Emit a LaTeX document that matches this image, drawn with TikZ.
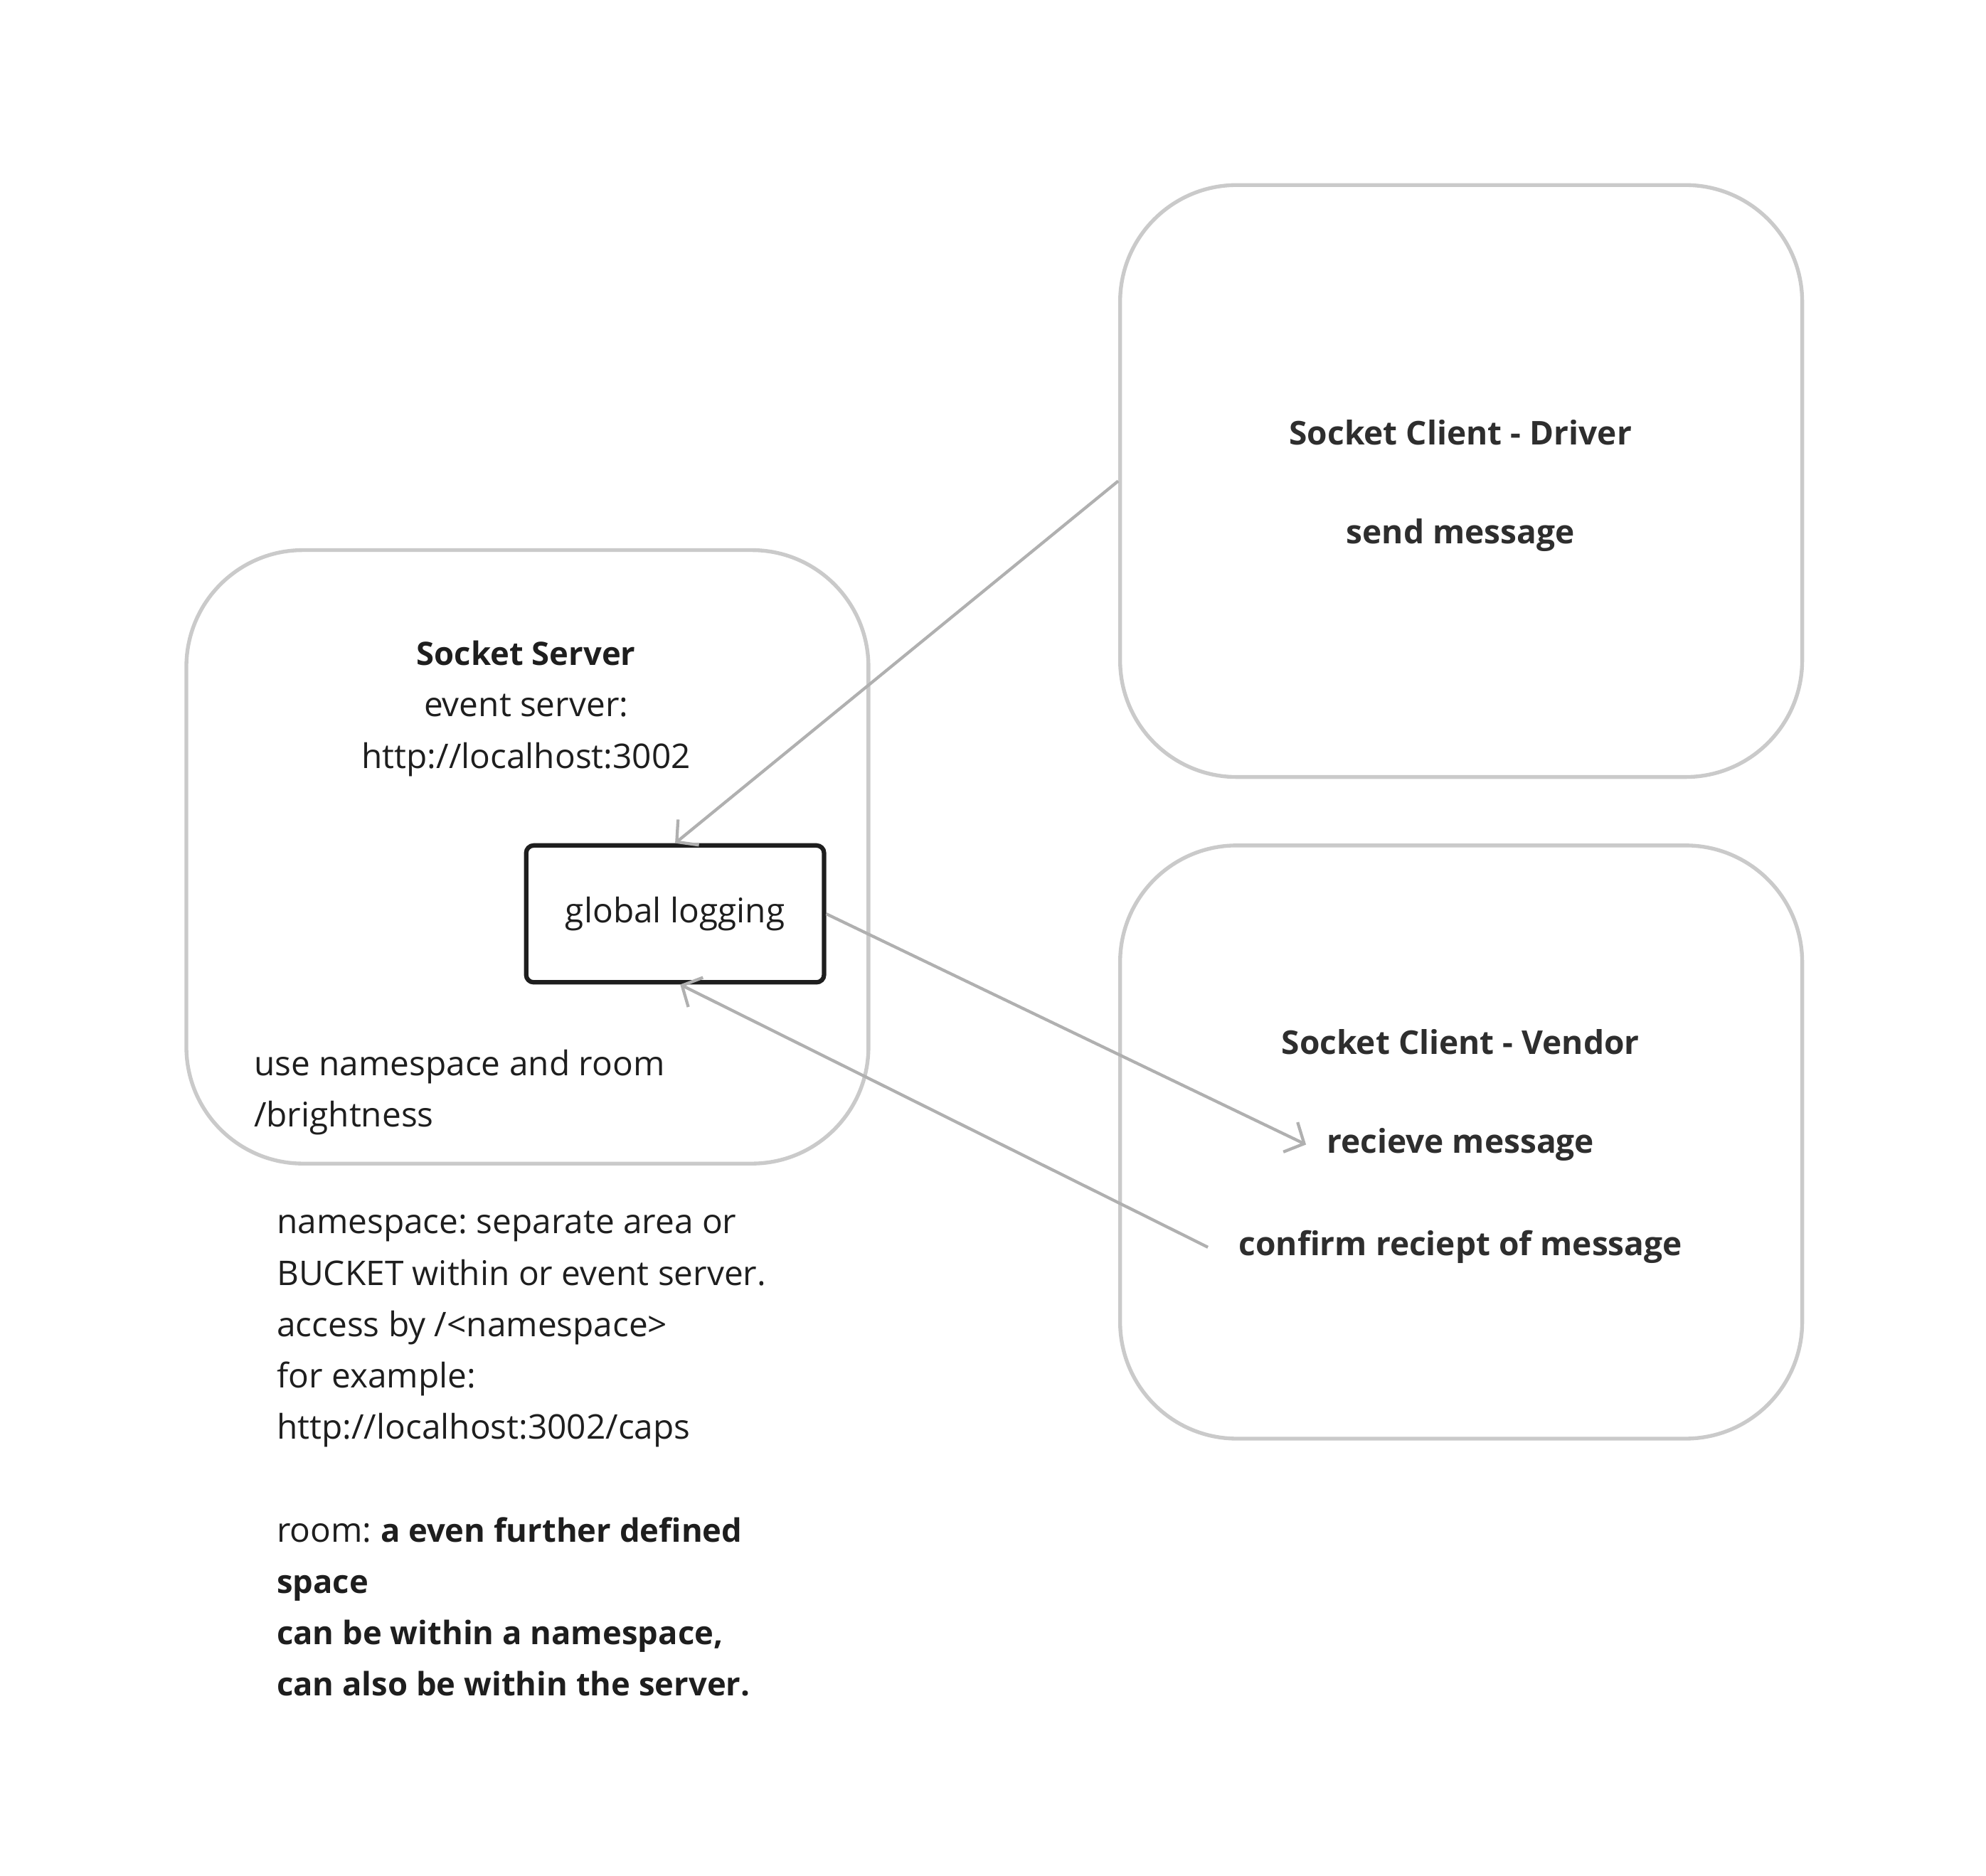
\documentclass[tikz,border=0pt]{standalone}
\usepackage{fontspec}
\setmainfont{Open Sans}[BoldFeatures={Scale=0.95}]
\usetikzlibrary{arrows.meta}
\frenchspacing

\definecolor{boxgray}{HTML}{CACACA}
\definecolor{linkgray}{HTML}{B0B0B0}
\definecolor{inkdark}{HTML}{1E1E1E}
\definecolor{inktitle}{HTML}{2E2E2E}

\tikzset{
    bigbox/.style = {draw=boxgray, line width=1.5pt, rounded corners=46pt,
        minimum width=269pt, inner sep=0pt},
    logbox/.style = {draw=inkdark, line width=1.75pt, rounded corners=3pt,
        minimum width=117.5pt, minimum height=54pt, inner sep=0pt,
        font=\fontsize{13.4}{20.25}\selectfont, text=inkdark},
    plain/.style = {inner sep=0pt, text=inkdark,
        font=\fontsize{13.4}{20.25}\selectfont},
    title/.style = {inner sep=0pt, text=inktitle,
        font=\fontsize{13.6}{20.25}\selectfont\bfseries},
    link/.style = {draw=linkgray, line width=1.2pt,
        -{Straight Barb[length=6pt,width=13pt]}}
}

\begin{document}
\begin{tikzpicture}[x=0.5pt, y=-0.5pt]
    \useasboundingbox (0,0) rectangle (1566.5,1480);

    % boxes
    \node[bigbox, minimum height=242pt] (server) at (416,676) {};
    \node[bigbox, minimum height=233.5pt] (driver) at (1152.5,379.5) {};
    \node[bigbox, minimum height=234pt] (vendor) at (1152.5,901) {};
    \node[logbox] (log) at (532.5,721) {global logging};

    % server texts
    \node[plain, align=center] (srvtext) at (415,559)
        {\textbf{Socket Server}\\ event server:\\ http://localhost:3002};
    \node[plain, align=left, anchor=west] (usens) at (200,862)
        {use namespace and room\\ /brightness};

    % client texts
    \node[title] (drvtitle) at (1152,341) {Socket Client - Driver};
    \node[title] (send) at (1152,422) {send message};
    \node[title] (vndtitle) at (1152,822) {Socket Client - Vendor};
    \node[title] (recv) at (1152,903) {recieve message};
    \node[title] (confirm) at (1152,984) {confirm reciept of message};

    % notes
    \node[plain, align=left, anchor=west] (notes) at (218,1147)
        {namespace: separate area or\\
         BUCKET within or event server.\\
         access by /<namespace>\\
         for example:\\
         http://localhost:3002/caps\\
         \mbox{}\\
         room: \textbf{a even further defined}\\
         \textbf{space}\\
         \textbf{can be within a namespace,}\\
         \textbf{can also be within the server.}};

    % connectors
    \draw[link] (driver.west) -- (log.north);
    \draw[link] (log.east) -- ([xshift=-8pt]recv.west);
    \draw[link] ([xshift=-12pt]confirm.west) -- ([xshift=2pt]log.south);
\end{tikzpicture}
\end{document}
